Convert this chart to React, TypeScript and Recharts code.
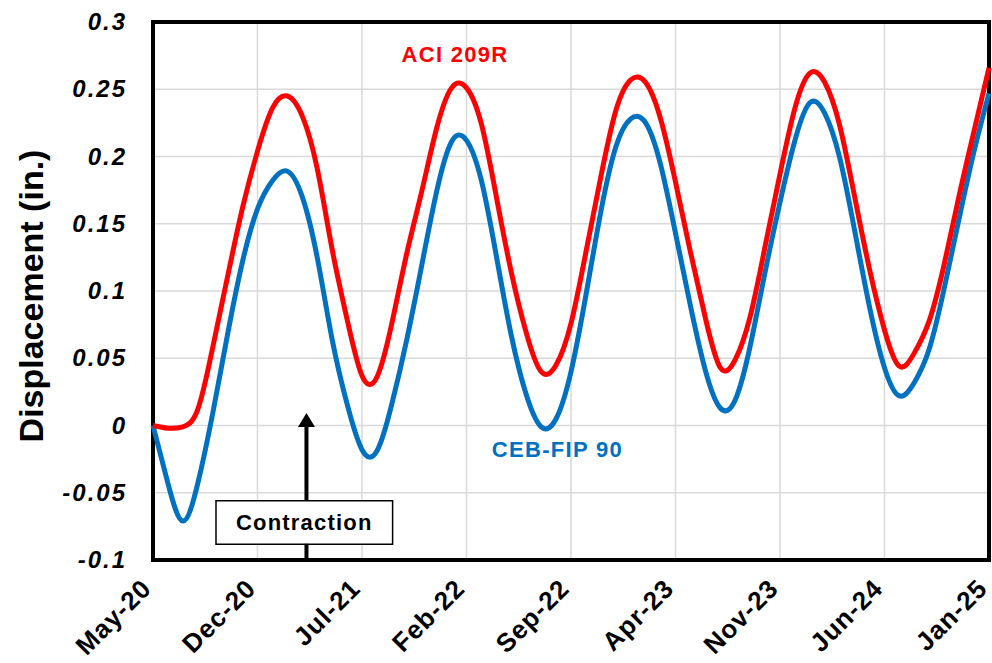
import {
  LineChart,
  Line,
  XAxis,
  YAxis,
  CartesianGrid,
  ReferenceArea,
  ReferenceLine,
  ReferenceDot,
} from "recharts";

const monthLabels = ["May-20", "Dec-20", "Jul-21", "Feb-22", "Sep-22", "Apr-23", "Nov-23", "Jun-24", "Jan-25"];
const xTicks = [0, 7, 14, 21, 28, 35, 42, 49, 56];
const yTicks = [-0.1, -0.05, 0, 0.05, 0.1, 0.15, 0.2, 0.25, 0.3];

// monthly readings, May-20 .. Jan-25
const aci209r = [
  0.0, -0.002, -0.001, 0.012, 0.058, 0.111, 0.162, 0.204, 0.236, 0.245,
  0.23, 0.191, 0.131, 0.079, 0.037, 0.036, 0.076, 0.128, 0.174, 0.221,
  0.251, 0.251, 0.224, 0.17, 0.114, 0.069, 0.04, 0.045, 0.076, 0.129,
  0.185, 0.234, 0.257, 0.255, 0.228, 0.181, 0.129, 0.08, 0.043, 0.049,
  0.081, 0.133, 0.187, 0.236, 0.262, 0.255, 0.223, 0.17, 0.116, 0.071,
  0.044, 0.054, 0.078, 0.12, 0.171, 0.219, 0.266,
];
const cebFip90 = [
  0.0, -0.043, -0.071, -0.043, 0.009, 0.068, 0.122, 0.161, 0.182, 0.189,
  0.17, 0.125, 0.064, 0.016, -0.018, -0.019, 0.016, 0.064, 0.119, 0.174,
  0.211, 0.212, 0.182, 0.126, 0.067, 0.023, -0.001, 0.005, 0.04, 0.097,
  0.159, 0.207, 0.228, 0.225, 0.194, 0.143, 0.089, 0.041, 0.013, 0.019,
  0.059, 0.114, 0.166, 0.212, 0.24, 0.232, 0.199, 0.145, 0.088, 0.043,
  0.022, 0.032, 0.057, 0.102, 0.154, 0.204, 0.247,
];

const data = aci209r.map((v, i) => ({ month: i, aci: v, ceb: cebFip90[i] }));

const FONT = "'Liberation Sans', Arial, sans-serif";
const RED = "#ff0000";
const BLUE = "#0070c0";

const YTick = (props: any) => (
  <text
    x={props.x}
    y={props.y}
    dy={8}
    textAnchor="end"
    fontFamily={FONT}
    fontSize={24}
    fontWeight="bold"
    fontStyle="italic"
    letterSpacing={2}
    fill="#000"
  >
    {props.payload.value}
  </text>
);

const XTick = (props: any) => {
  const idx = xTicks.indexOf(props.payload.value);
  return (
    <g transform={`translate(${props.x},${props.y + 30})`}>
      <text
        textAnchor="end"
        transform="rotate(-45)"
        fontFamily={FONT}
        fontSize={26}
        fontWeight="bold"
        letterSpacing={1}
        fill="#000"
      >
        {monthLabels[idx]}
      </text>
    </g>
  );
};

const noteText = (label: string, color: string) => (p: any) => (
  <text
    x={p.cx}
    y={p.cy}
    textAnchor="middle"
    fontFamily={FONT}
    fontSize={22}
    fontWeight="bold"
    letterSpacing={1.3}
    fill={color}
  >
    {label}
  </text>
);

const arrowHead = (p: any) => (
  <polygon
    points={`${p.cx},${p.cy} ${p.cx - 8.5},${p.cy + 14} ${p.cx + 8.5},${p.cy + 14}`}
    fill="#000"
  />
);

const App = () => {
  return (
    <div style={{ position: "absolute", left: 0, top: 0, background: "#fff" }}>
      <LineChart
        width={992}
        height={663}
        data={data}
        margin={{ top: 22, right: 3, bottom: 0, left: 0 }}
      >
        <CartesianGrid stroke="#d9d9d9" strokeWidth={1.5} />
        <XAxis
          dataKey="month"
          type="number"
          domain={[0, 56]}
          ticks={xTicks}
          interval={0}
          height={103}
          tickLine={false}
          axisLine={false}
          tickSize={0}
          tickMargin={0}
          tick={<XTick />}
        />
        <YAxis
          type="number"
          domain={[-0.1, 0.3]}
          ticks={yTicks}
          interval={0}
          width={153}
          tickLine={false}
          axisLine={false}
          tickSize={0}
          tickMargin={26}
          tick={<YTick />}
          label={{
            content: () => (
              <text
                x={43}
                y={296}
                transform="rotate(-90, 43, 296)"
                textAnchor="middle"
                fontFamily={FONT}
                fontSize={34}
                fontWeight="bold"
                fill="#000"
              >
                Displacement (in.)
              </text>
            ),
          }}
        />
        <Line
          type="natural"
          dataKey="ceb"
          stroke={BLUE}
          strokeWidth={5}
          dot={false}
          isAnimationActive={false}
        />
        <Line
          type="natural"
          dataKey="aci"
          stroke={RED}
          strokeWidth={5}
          dot={false}
          isAnimationActive={false}
        />
        <ReferenceLine
          segment={[{ x: 10.28, y: -0.1 }, { x: 10.28, y: -0.088 }]}
          stroke="#000"
          strokeWidth={4}
        />
        <ReferenceLine
          segment={[{ x: 10.28, y: -0.056 }, { x: 10.28, y: -0.0005 }]}
          stroke="#000"
          strokeWidth={4}
        />
        <ReferenceDot x={10.28} y={0.0093} r={0} shape={arrowHead} />
        <ReferenceArea
          x1={4.22}
          x2={16.05}
          y1={-0.0883}
          y2={-0.0559}
          fill="#fff"
          fillOpacity={1}
          stroke="#000"
          strokeWidth={1.5}
          label={{
            content: (p: any) => (
              <text
                x={p.viewBox.x + p.viewBox.width / 2}
                y={p.viewBox.y + p.viewBox.height / 2 + 8}
                textAnchor="middle"
                fontFamily={FONT}
                fontSize={22}
                fontWeight="bold"
                letterSpacing={1.2}
                fill="#000"
              >
                Contraction
              </text>
            ),
          }}
        />
        <ReferenceDot x={20.23} y={0.2703} r={0} shape={noteText("ACI 209R", RED)} />
        <ReferenceDot x={27.09} y={-0.0234} r={0} shape={noteText("CEB-FIP 90", BLUE)} />
        <ReferenceArea
          x1={0}
          x2={56}
          y1={-0.1}
          y2={0.3}
          fill="none"
          stroke="#000"
          strokeWidth={4}
        />
      </LineChart>
    </div>
  );
};

export default App;
